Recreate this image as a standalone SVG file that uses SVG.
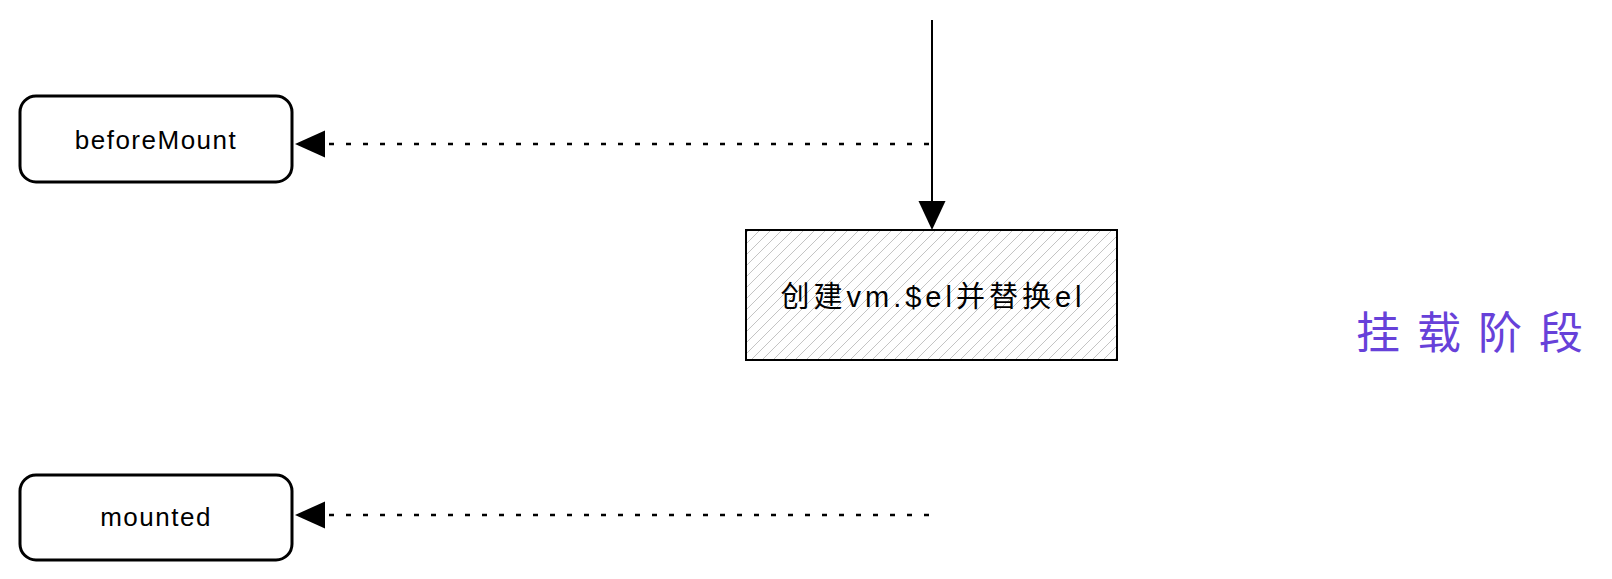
<svg xmlns="http://www.w3.org/2000/svg" width="1612" height="579" viewBox="0 0 1612 579">
<style>
.node{fill:#fff;stroke:#000;stroke-width:3}
.lbl{font-family:"Liberation Sans","Noto Sans CJK SC",sans-serif;fill:#000;text-anchor:middle;dominant-baseline:central}
.dot{stroke:#000;stroke-width:2.5;stroke-dasharray:5 12;fill:none}
.solid{stroke:#000;stroke-width:2;fill:none}
.head{fill:#000}
</style>
<defs>
<pattern id="hatch" patternUnits="userSpaceOnUse" width="11" height="11">
<path d="M-1,12 L12,-1 M-4,4 L4,-4 M7,15 L15,7" stroke="#c4c4c4" stroke-width="1"/>
</pattern>
</defs>
<g id="connectors">
<line class="solid" x1="932" y1="20" x2="932" y2="202"/>
<polygon class="head" points="918.5,201 945.5,201 932,230"/>
<line class="dot" x1="329" y1="144" x2="932" y2="144"/>
<polygon class="head" points="295,144 325,130.5 325,157.5"/>
<line class="dot" x1="329" y1="515" x2="932" y2="515"/>
<polygon class="head" points="295,515 325,501.5 325,528.5"/>
</g>
<g id="beforeMount">
<rect class="node" x="20" y="96" width="272" height="86" rx="16"/>
<text class="lbl" x="156" y="140" font-size="26" letter-spacing="1.5">beforeMount</text>
</g>
<g id="create">
<rect x="746" y="230" width="371" height="130" fill="url(#hatch)" stroke="#000" stroke-width="2"/>
<text class="lbl" x="933" y="297" font-size="29" letter-spacing="4">创建vm.$el并替换el</text>
</g>
<g id="mounted">
<rect class="node" x="20" y="475" width="272" height="85" rx="16"/>
<text class="lbl" x="156" y="517" font-size="26" letter-spacing="1.5">mounted</text>
</g>
<g id="phase">
<text class="lbl" x="1478" y="333" font-size="44" letter-spacing="17" style="fill:#6741d9">挂载阶段</text>
</g>
</svg>
